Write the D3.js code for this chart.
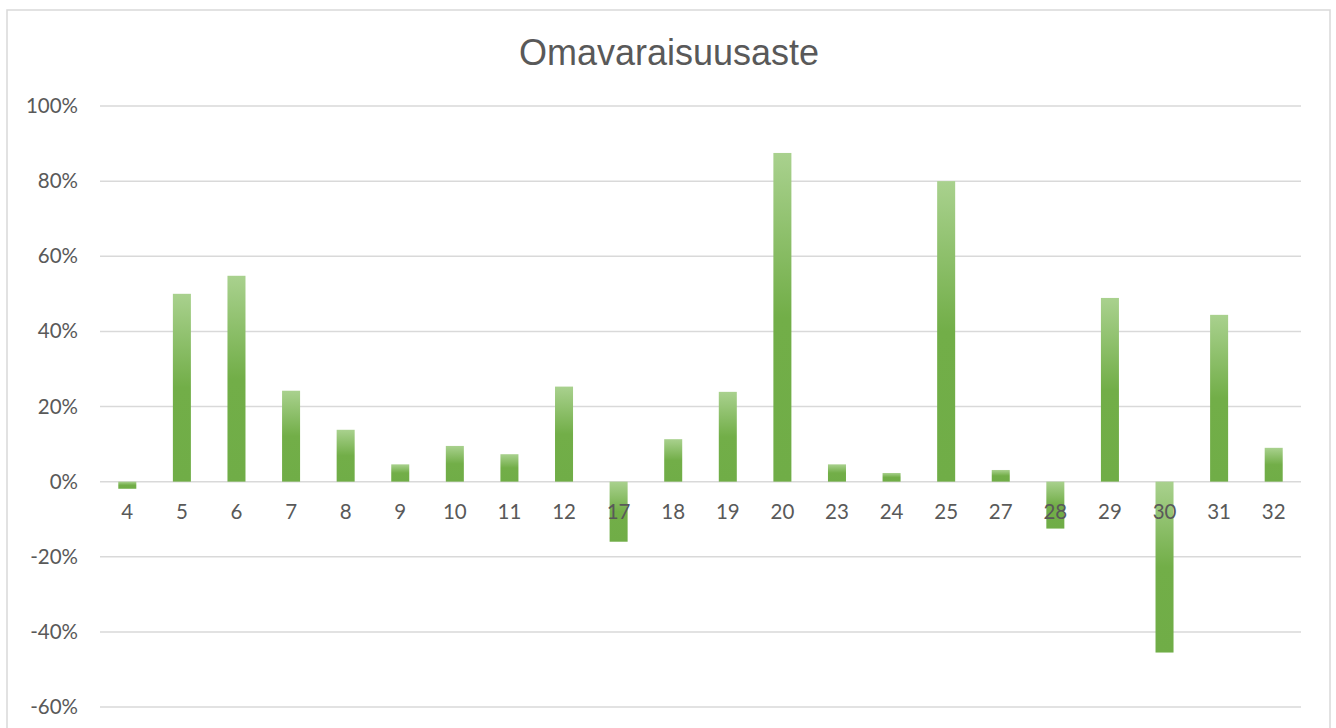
<!DOCTYPE html>
<html><head><meta charset="utf-8">
<script src="https://cdn.jsdelivr.net/npm/d3@7"></script>
<style>body{margin:0;background:#fff;}svg{display:block;}</style>
</head><body>
<script>
const categories = ["4","5","6","7","8","9","10","11","12","17","18","19","20","23","24","25","27","28","29","30","31","32"];
const values = [-0.019,0.50,0.548,0.242,0.138,0.046,0.095,0.073,0.253,-0.16,0.113,0.239,0.875,0.046,0.023,0.80,0.031,-0.125,0.489,-0.455,0.444,0.09];
const yTicks = [-0.6,-0.4,-0.2,0,0.2,0.4,0.6,0.8,1.0];
const title = "Omavaraisuusaste";

const W = 1336, H = 728;
const svg = d3.select("body").append("svg").attr("width", W).attr("height", H);
const defs = svg.append("defs");
const g = defs.append("linearGradient").attr("id","grad").attr("x1",0).attr("y1",0).attr("x2",0).attr("y2",1);
g.append("stop").attr("offset","0%").attr("stop-color","#a9d18e");
g.append("stop").attr("offset","50%").attr("stop-color","#72ae48");
g.append("stop").attr("offset","100%").attr("stop-color","#70ad47");

svg.append("rect").attr("x",7).attr("y",10).attr("width",1323).attr("height",730)
  .attr("fill","#fff").attr("stroke","#d9d9d9").attr("stroke-width",1.5);

const x = d3.scaleBand().domain(categories).range([100,1301]).paddingInner(0.67).paddingOuter(0.335);
const y = d3.scaleLinear().domain([-0.6,1.0]).range([707,106]);

svg.append("text").attr("x",669).attr("y",65).attr("text-anchor","middle")
  .attr("font-family","Liberation Sans, Arial, sans-serif").attr("font-size",36).attr("fill","#595959").text(title);

const grid = svg.append("g");
grid.selectAll("line").data(yTicks).join("line")
  .attr("x1",100).attr("x2",1301).attr("y1",d=>y(d)).attr("y2",d=>y(d))
  .attr("stroke","#d9d9d9").attr("stroke-width",1.5);

const yAxis = svg.append("g").attr("transform","translate(100,0)")
  .call(d3.axisLeft(y).tickValues(yTicks).tickFormat(d=>Math.round(d*100)+"%").tickSize(0).tickPadding(22));
yAxis.select(".domain").remove();
yAxis.selectAll("text").attr("font-family","Lato, 'Open Sans', sans-serif").attr("font-size",20.5).attr("fill","#595959");

svg.append("g").selectAll("rect").data(values).join("rect")
  .attr("x",(d,i)=>x(categories[i])).attr("width",x.bandwidth())
  .attr("y",d=>y(Math.max(0,d))).attr("height",d=>Math.abs(y(d)-y(0)))
  .attr("fill","url(#grad)");

const xAxis = svg.append("g").attr("transform",`translate(0,${y(0)})`)
  .call(d3.axisBottom(x).tickSize(0).tickPadding(23));
xAxis.select(".domain").remove();
xAxis.selectAll("text").attr("font-family","Lato, 'Open Sans', sans-serif").attr("font-size",20.5).attr("fill","#595959");
</script>
</body></html>
